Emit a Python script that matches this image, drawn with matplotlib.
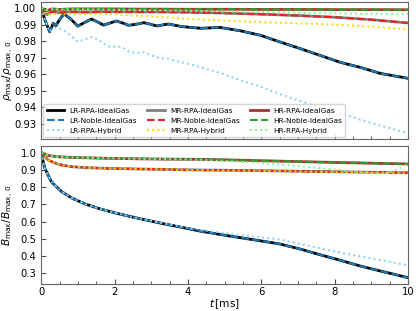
import numpy as np
import matplotlib
matplotlib.use("Agg")
import matplotlib.pyplot as plt
from matplotlib.ticker import AutoMinorLocator, MultipleLocator

# --------------------------------------------------------------------------
# data (t in ms)
# --------------------------------------------------------------------------

# top panel: rho_max / rho_max,0
t_lr_rho = [0, 0.1, 0.23, 0.33, 0.4, 0.5, 0.62, 0.8, 1.0, 1.2, 1.37, 1.55, 1.7,
            1.88, 2.05, 2.22, 2.38, 2.6, 2.8, 3.0, 3.15, 3.3, 3.47, 3.65, 3.84,
            4.34, 4.88, 5.42, 5.97, 6.51, 7.06, 7.6, 8.15, 8.69, 9.24, 10.0]
lr_ideal_rho = [1.0, 0.993, 0.9857, 0.9908, 0.9893, 0.993, 0.9965, 0.9935, 0.9891,
                0.9915, 0.9934, 0.9915, 0.9897, 0.991, 0.9922, 0.991, 0.9896,
                0.9903, 0.9912, 0.9901, 0.9892, 0.9898, 0.9904, 0.9896, 0.9888,
                0.9878, 0.9883, 0.9863, 0.9836, 0.9795, 0.9755, 0.9714, 0.9672,
                0.9642, 0.9605, 0.9575]
lr_hybrid_rho = [1.0, 0.993, 0.9857, 0.9875, 0.988, 0.9875, 0.9865, 0.9835, 0.9797,
                 0.9812, 0.9826, 0.981, 0.9785, 0.9764, 0.9768, 0.9763, 0.9738,
                 0.9728, 0.9735, 0.9715, 0.9702, 0.9697, 0.9693, 0.968, 0.9672,
                 0.9643, 0.9608, 0.9565, 0.9525, 0.948, 0.9437, 0.940, 0.9365,
                 0.9325, 0.929, 0.9243]

t_rho = [0, 0.15, 0.3, 0.5, 0.8, 1.2, 1.6, 2.0, 2.5, 3.0, 4.0, 5.0, 6.0, 7.0, 8.0, 9.0, 10.0]
mr_ideal_rho = [1.0, 0.996, 0.998, 0.9972, 0.9978, 0.9975, 0.9978, 0.9978, 0.9977,
                0.9977, 0.9975, 0.997, 0.9963, 0.9955, 0.9945, 0.993, 0.991]
mr_hybrid_rho = [1.0, 0.996, 0.9965, 0.9962, 0.9962, 0.9964, 0.9965, 0.9962, 0.9955,
                 0.995, 0.9935, 0.9925, 0.9915, 0.9908, 0.990, 0.9888, 0.9871]
hr_ideal_rho = [1.0, 0.9985, 0.9995, 0.9992, 0.9995, 0.9995, 0.9995, 0.9995, 0.9994,
                0.9994, 0.9993, 0.9993, 0.9992, 0.9992, 0.9991, 0.9991, 0.999]
hr_hybrid_rho = [1.0, 0.9988, 0.9993, 0.9993, 0.9993, 0.9993, 0.9992, 0.999, 0.9989,
                 0.9987, 0.9984, 0.998, 0.9977, 0.9972, 0.9968, 0.9966, 0.9965]

# bottom panel: B_max / B_max,0
t_lr_b = [0, 0.1, 0.28, 0.55, 0.83, 1.19, 1.6, 2.06, 2.52, 2.97, 3.42, 3.88, 4.33,
          5.24, 5.97, 6.51, 7.06, 7.6, 8.15, 8.69, 9.24, 10.0]
lr_ideal_b = [1.0, 0.909, 0.830, 0.775, 0.737, 0.703, 0.674, 0.648, 0.625, 0.604,
              0.584, 0.565, 0.545, 0.513, 0.489, 0.470, 0.441, 0.408, 0.376, 0.343,
              0.314, 0.275]
lr_hybrid_b = [1.0, 0.909, 0.830, 0.775, 0.737, 0.703, 0.674, 0.648, 0.625, 0.605,
               0.586, 0.568, 0.552, 0.527, 0.510, 0.496, 0.470, 0.445, 0.421, 0.399,
               0.377, 0.347]

t_b = [0, 0.19, 0.46, 0.83, 1.2, 1.73, 2.64, 3.5, 4.3, 5.0, 6.0, 7.0, 8.0, 8.7, 9.3, 9.6, 10.0]
mr_ideal_b = [1.0, 0.957, 0.932, 0.918, 0.913, 0.909, 0.905, 0.902, 0.899, 0.898,
              0.895, 0.892, 0.889, 0.887, 0.885, 0.884, 0.883]
mr_hybrid_b = [1.0, 0.957, 0.932, 0.918, 0.913, 0.909, 0.905, 0.902, 0.899, 0.897,
               0.894, 0.891, 0.887, 0.885, 0.883, 0.882, 0.880]
hr_ideal_b = [1.0, 0.983, 0.976, 0.972, 0.970, 0.967, 0.964, 0.962, 0.961, 0.958,
              0.953, 0.948, 0.943, 0.940, 0.937, 0.936, 0.934]
hr_hybrid_b = [1.0, 0.983, 0.976, 0.972, 0.970, 0.967, 0.964, 0.962, 0.959, 0.952,
               0.940, 0.922, 0.902, 0.888, 0.876, 0.893, 0.934]

# --------------------------------------------------------------------------
# styles: label -> (color, linestyle, linewidth)
# --------------------------------------------------------------------------
styles = {
    "LR-RPA-IdealGas": ("black", "-", 2.0),
    "LR-Noble-IdealGas": ("#1f77b4", "--", 1.5),
    "LR-RPA-Hybrid": ("#87cefa", ":", 1.4),
    "MR-RPA-IdealGas": ("gray", "-", 2.0),
    "MR-Noble-IdealGas": ("#e8221e", "--", 1.5),
    "MR-RPA-Hybrid": ("#ffd700", ":", 1.4),
    "HR-RPA-IdealGas": ("#a83232", "-", 2.0),
    "HR-Noble-IdealGas": ("#2ca02c", "--", 1.5),
    "HR-RPA-Hybrid": ("#90ee90", ":", 1.4),
}

plt.rcParams["xtick.direction"] = "in"
plt.rcParams["ytick.direction"] = "in"
plt.rcParams["font.size"] = 7.2

fig, (ax1, ax2) = plt.subplots(2, 1, figsize=(4.16, 3.11), dpi=100, sharex=True)
fig.subplots_adjust(left=0.099, right=0.981, top=0.994, bottom=0.087, hspace=0.05)


def draw(ax, name, t, y):
    c, ls, lw = styles[name]
    ax.plot(t, y, color=c, ls=ls, lw=lw, label=name)


# top panel
draw(ax1, "LR-RPA-IdealGas", t_lr_rho, lr_ideal_rho)
draw(ax1, "LR-Noble-IdealGas", t_lr_rho, lr_ideal_rho)
draw(ax1, "LR-RPA-Hybrid", t_lr_rho, lr_hybrid_rho)
draw(ax1, "MR-RPA-IdealGas", t_rho, mr_ideal_rho)
draw(ax1, "MR-Noble-IdealGas", t_rho, mr_ideal_rho)
draw(ax1, "MR-RPA-Hybrid", t_rho, mr_hybrid_rho)
draw(ax1, "HR-RPA-IdealGas", t_rho, hr_ideal_rho)
draw(ax1, "HR-Noble-IdealGas", t_rho, hr_ideal_rho)
draw(ax1, "HR-RPA-Hybrid", t_rho, hr_hybrid_rho)

# bottom panel
draw(ax2, "LR-RPA-IdealGas", t_lr_b, lr_ideal_b)
draw(ax2, "LR-Noble-IdealGas", t_lr_b, lr_ideal_b)
draw(ax2, "LR-RPA-Hybrid", t_lr_b, lr_hybrid_b)
draw(ax2, "MR-RPA-IdealGas", t_b, mr_ideal_b)
draw(ax2, "MR-Noble-IdealGas", t_b, mr_ideal_b)
draw(ax2, "MR-RPA-Hybrid", t_b, mr_hybrid_b)
draw(ax2, "HR-RPA-IdealGas", t_b, hr_ideal_b)
draw(ax2, "HR-Noble-IdealGas", t_b, hr_ideal_b)
draw(ax2, "HR-RPA-Hybrid", t_b, hr_hybrid_b)

ax1.legend(loc="lower left", ncol=3, fontsize=5.3, handlelength=2.4,
           handletextpad=0.7, columnspacing=1.4, labelspacing=0.55,
           borderaxespad=0.3, borderpad=0.45, edgecolor="0.8")

ax1.set_ylabel(r"$\rho_{\rm max}/\rho_{\rm max,\,0}$", fontsize=7.6)
ax2.set_ylabel(r"$B_{\rm max}/B_{\rm max,\,0}$", fontsize=7.6)
ax1.yaxis.set_label_coords(-0.068, 0.5)
ax2.yaxis.set_label_coords(-0.068, 0.5)
ax2.set_xlabel(r"$t\,[\rm ms]$", fontsize=7.6, labelpad=0)
ax2.set_xlim(0, 10)
ax1.yaxis.set_major_locator(MultipleLocator(0.01))
ax2.yaxis.set_major_locator(MultipleLocator(0.1))

for ax in (ax1, ax2):
    ax.xaxis.set_minor_locator(AutoMinorLocator())
    ax.tick_params(which="major", length=3.5, color="0.3")
    ax.tick_params(which="minor", length=2, color="0.3")
    ax.tick_params(axis="x", pad=2)
    for sp in ax.spines.values():
        sp.set_color("0.4")

fig.savefig("out.png", dpi=100)
